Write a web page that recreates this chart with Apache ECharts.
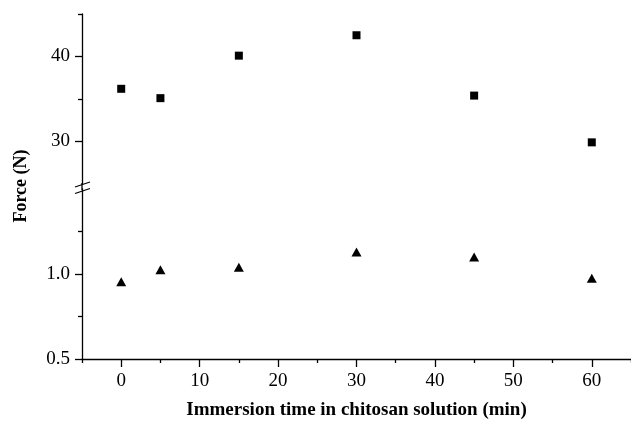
<!DOCTYPE html>
<html><head><meta charset="utf-8">
<script src="https://cdn.jsdelivr.net/npm/echarts@6/dist/echarts.min.js"></script>
<style>html,body{margin:0;padding:0;background:#fff}#c{width:631px;height:421px}</style>
</head><body><div id="c"></div>
<script>
// ---- data ----
const times = [0, 5, 15, 30, 45, 60];
const forceHigh = [36.2, 35.1, 40.1, 42.5, 35.4, 29.9];
const forceLow = [0.955, 1.025, 1.04, 1.13, 1.10, 0.975];
const xTicks = [0, 10, 20, 30, 40, 50, 60];
const xMinorTicks = [-5, 5, 15, 25, 35, 45, 55, 65];
const yHighTicks = [30, 40];
const yHighMinor = [35, 45];
const yLowTicks = [0.5, 1.0];
const yLowMinor = [0.75, 1.25];
const xTitle = 'Immersion time in chitosan solution (min)';
const yTitle = 'Force (N)';

const FONT = 'Liberation Serif';
const TICK_STYLE = { color: '#000', width: 1.3 };

function pairs(xs, ys) { return xs.map((x, i) => [x, ys[i]]); }

const chart = echarts.init(document.getElementById('c'), null, { renderer: 'canvas' });
const G0 = { left: 82, top: 14, width: 551, height: 170 };
const G1 = { left: 82, top: 189, width: 551, height: 170 };

function xAx(grid, extra) {
  return Object.assign({ type: 'value', gridIndex: grid, min: -5, max: 65, position: 'bottom',
    splitLine: { show: false } }, extra);
}
function yAx(grid, min, max, extra) {
  return Object.assign({ type: 'value', gridIndex: grid, min: min, max: max, position: 'left',
    splitLine: { show: false } }, extra);
}
function tickOnly(vals, len) {
  return {
    axisLine: { show: false, onZero: false },
    axisTick: { show: true, length: len, lineStyle: TICK_STYLE, customValues: vals },
    axisLabel: { show: false }
  };
}

const option = {
  animation: false,
  backgroundColor: '#fff',
  grid: [G0, G1],
  xAxis: [
    xAx(0, { show: false }),
    xAx(1, {
      axisLine: { show: true, onZero: false, lineStyle: TICK_STYLE },
      axisTick: { show: false },
      axisLabel: { customValues: xTicks, color: '#000', fontFamily: FONT, fontSize: 19, margin: 13 },
      name: xTitle, nameLocation: 'middle', nameGap: 42,
      nameTextStyle: { color: '#000', fontFamily: FONT, fontSize: 19, fontWeight: 'bold' }
    }),
    xAx(1, tickOnly(xTicks, 8)),
    xAx(1, tickOnly(xMinorTicks, 4))
  ],
  yAxis: [
    yAx(0, 25, 45, {
      axisLine: { show: true, onZero: false, lineStyle: TICK_STYLE },
      axisTick: { show: false },
      axisLabel: { customValues: yHighTicks, color: '#000', fontFamily: FONT, fontSize: 19, margin: 12 }
    }),
    yAx(1, 0.5, 1.5, {
      axisLine: { show: true, onZero: false, lineStyle: TICK_STYLE },
      axisTick: { show: false },
      axisLabel: { customValues: yLowTicks, color: '#000', fontFamily: FONT, fontSize: 19, margin: 12,
        formatter: v => Number(v).toFixed(1) }
    }),
    yAx(0, 25, 45, tickOnly(yHighTicks, 7)),
    yAx(0, 25, 45, tickOnly(yHighMinor, 4)),
    yAx(1, 0.5, 1.5, tickOnly(yLowTicks, 7)),
    yAx(1, 0.5, 1.5, tickOnly(yLowMinor, 4))
  ],
  series: [
    { type: 'scatter', xAxisIndex: 0, yAxisIndex: 0, data: pairs(times, forceHigh),
      symbol: 'rect', symbolSize: 8, itemStyle: { color: '#000', opacity: 1 } },
    { type: 'scatter', xAxisIndex: 1, yAxisIndex: 1, data: pairs(times, forceLow),
      symbol: 'triangle', symbolSize: [10, 9], itemStyle: { color: '#000', opacity: 1 } }
  ],
  graphic: [
    { type: 'line', shape: { x1: 82, y1: 183, x2: 82, y2: 190 }, style: { stroke: '#000', lineWidth: 1.3 } },
    { type: 'line', shape: { x1: 75, y1: 187, x2: 90, y2: 182 }, style: { stroke: '#000', lineWidth: 1.3 } },
    { type: 'line', shape: { x1: 75, y1: 193.5, x2: 90, y2: 188.5 }, style: { stroke: '#000', lineWidth: 1.3 } },
    { type: 'text', x: 21, y: 186, rotation: Math.PI / 2,
      style: { text: yTitle, align: 'center', verticalAlign: 'middle', fill: '#000',
        font: 'bold 18px "Liberation Serif"' } }
  ]
};
chart.setOption(option);
</script>
</body></html>
